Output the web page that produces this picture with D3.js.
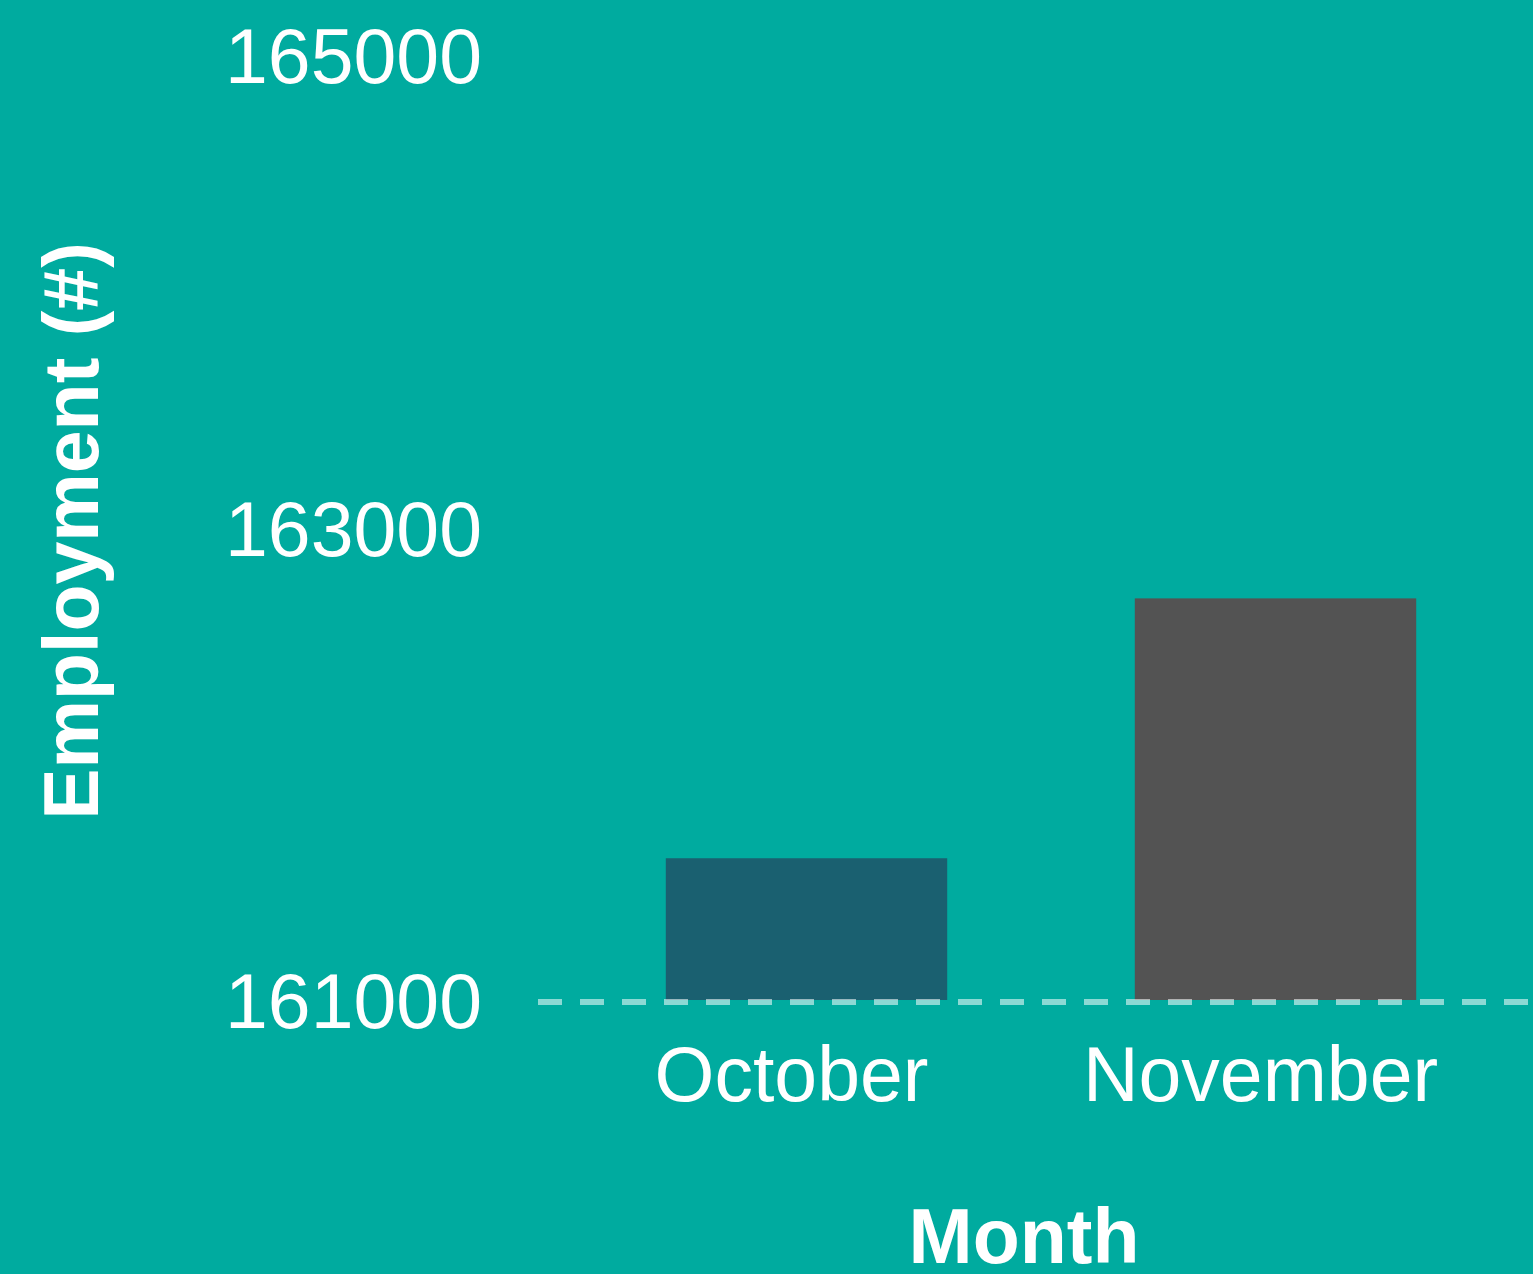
<!DOCTYPE html>
<html>
<head>
<meta charset="utf-8">
<script src="https://cdn.jsdelivr.net/npm/d3@7"></script>
<style>
  body { margin: 0; background: #00ab9f; }
  svg { display: block; }
  text { font-family: "Liberation Sans", Arial, sans-serif; fill: #ffffff; }
</style>
</head>
<body>
<script>
var months = ['October', 'November'];
var employment = [161600, 162700];
var barColors = ['#1a6070', '#535353'];
var yTicks = [161000, 163000, 165000];

var width = 1533, height = 1274;

var svg = d3.select('body')
            .append('svg')
            .attr('width', width)
            .attr('height', height);

svg.append('rect')
   .attr('width', width)
   .attr('height', height)
   .attr('fill', '#00ab9f');

var x = d3.scaleBand()
          .domain(months)
          .range([572, 1510])
          .paddingInner(0.4)
          .paddingOuter(0.2);

var y = d3.scaleLinear()
          .domain([161000, 165000])
          .range([1000, 55]);

// bars
svg.selectAll('rect.bar')
   .data(months)
   .enter().append('rect')
   .attr('class', 'bar')
   .attr('x', function (d) { return x(d); })
   .attr('width', x.bandwidth())
   .attr('y', function (d, i) { return y(employment[i]); })
   .attr('height', function (d, i) { return y(161000) - y(employment[i]); })
   .attr('fill', function (d, i) { return barColors[i]; });

// dashed baseline
svg.append('line')
   .attr('x1', 538)
   .attr('x2', width)
   .attr('y1', y(161000) + 2)
   .attr('y2', y(161000) + 2)
   .attr('stroke', '#ffffff')
   .attr('stroke-opacity', 0.55)
   .attr('stroke-width', 6)
   .attr('stroke-dasharray', '24,18');

// y axis labels
var yAxis = d3.axisLeft(y)
              .tickValues(yTicks)
              .tickFormat(d3.format('d'))
              .tickSize(0)
              .tickPadding(0);

var yg = svg.append('g')
            .attr('transform', 'translate(482,0)')
            .call(yAxis);
yg.select('.domain').remove();
yg.selectAll('text')
  .attr('fill', '#ffffff')
  .attr('font-size', 77)
  .attr('font-family', '"Liberation Sans", Arial, sans-serif')
  .attr('dy', '0.36em');

// x axis labels
var xAxis = d3.axisBottom(x)
              .tickSize(0)
              .tickPadding(0);

var xg = svg.append('g')
            .attr('transform', 'translate(-15,1101)')
            .call(xAxis);
xg.select('.domain').remove();
xg.selectAll('text')
  .attr('fill', '#ffffff')
  .attr('font-size', 77)
  .attr('font-family', '"Liberation Sans", Arial, sans-serif')
  .attr('dy', 0)
  .attr('y', 0);

// axis titles
svg.append('text')
   .attr('x', 1024)
   .attr('y', 1263)
   .attr('text-anchor', 'middle')
   .attr('font-size', 77)
   .attr('font-weight', 'bold')
   .text('Month');

svg.append('text')
   .attr('transform', 'translate(98,531) rotate(-90)')
   .attr('text-anchor', 'middle')
   .attr('font-size', 77)
   .attr('font-weight', 'bold')
   .text('Employment (#)');
</script>
</body>
</html>
